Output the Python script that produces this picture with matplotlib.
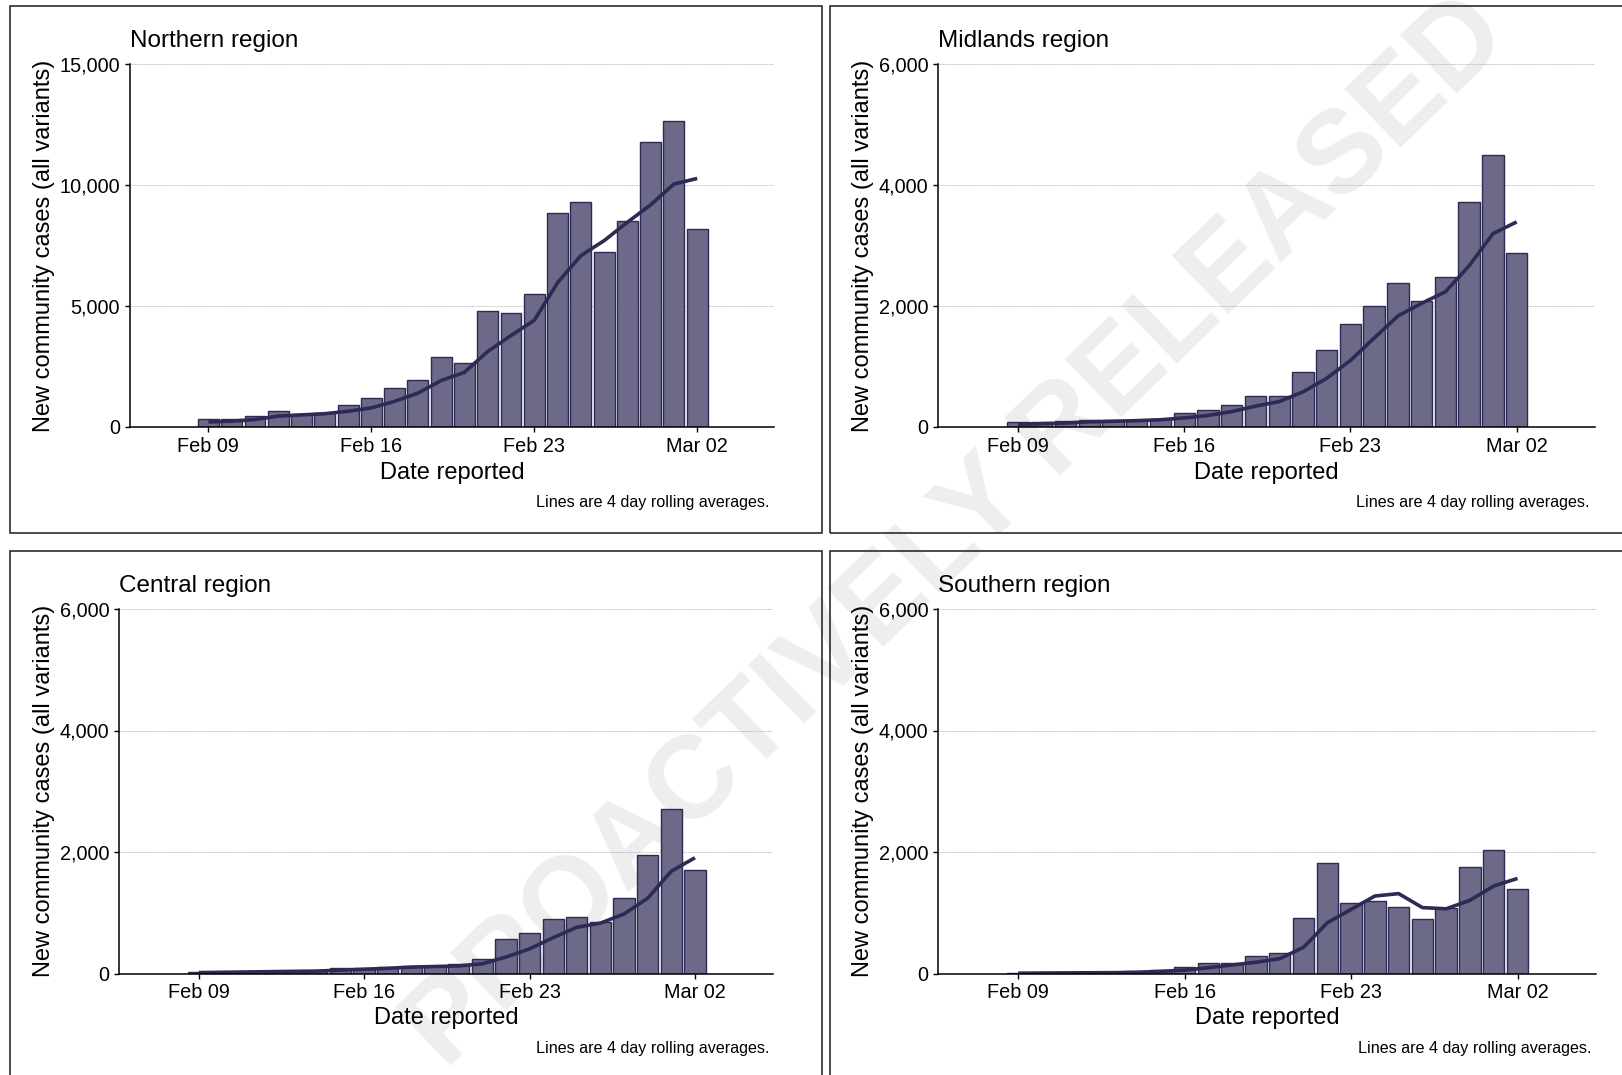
import pandas as pd
import matplotlib
matplotlib.use("Agg")
from matplotlib import pyplot as plt
from matplotlib.patches import Rectangle
from matplotlib.ticker import FuncFormatter

plt.rcParams['font.family'] = ['Liberation Sans', 'DejaVu Sans']

# daily reported community cases, Feb 09 - Mar 02
dates = pd.date_range("2022-02-09", "2022-03-02", freq="D")
tick_dates = pd.to_datetime(["2022-02-09", "2022-02-16", "2022-02-23", "2022-03-02"])
tick_labels = ["Feb 09", "Feb 16", "Feb 23", "Mar 02"]

northern_cases = [350, 340, 470, 670, 540, 570, 890, 1180, 1600, 1960, 2880,
                  2650, 4810, 4710, 5490, 8840, 9290, 7220, 8520, 11770, 12640, 8170]
northern_avg = [210, 240, 310, 450, 500, 550, 650, 790, 1060, 1400, 1920,
                2260, 3120, 3780, 4410, 5960, 7080, 7700, 8460, 9180, 10040, 10270]

midlands_cases = [85, 90, 95, 120, 120, 120, 140, 230, 285, 370, 510,
                  520, 910, 1270, 1710, 2000, 2380, 2090, 2480, 3715, 4500, 2875]
midlands_avg = [45, 55, 65, 85, 95, 105, 120, 150, 190, 255, 345,
                420, 580, 805, 1100, 1470, 1835, 2045, 2235, 2665, 3195, 3390]

central_cases = [20, 30, 30, 40, 45, 45, 90, 95, 110, 125, 125,
                 150, 245, 560, 665, 900, 925, 840, 1250, 1945, 2715, 1705]
central_avg = [15, 20, 25, 30, 35, 40, 55, 70, 85, 105, 115,
               125, 160, 270, 405, 590, 760, 830, 980, 1240, 1685, 1905]

southern_cases = [10, 10, 10, 15, 20, 35, 65, 100, 180, 180, 280,
                  330, 920, 1815, 1160, 1200, 1090, 890, 1085, 1755, 2025, 1390]
southern_avg = [5, 8, 10, 12, 14, 20, 35, 55, 95, 140, 185,
                245, 430, 835, 1055, 1275, 1315, 1085, 1065, 1205, 1440, 1565]

regions = ["Northern region", "Midlands region", "Central region", "Southern region"]
cases = [northern_cases, midlands_cases, central_cases, southern_cases]
averages = [northern_avg, midlands_avg, central_avg, southern_avg]
y_ticks = [[0, 5000, 10000, 15000], [0, 2000, 4000, 6000],
           [0, 2000, 4000, 6000], [0, 2000, 4000, 6000]]

W, H = 1622, 1075
LINE = '#2d2a55'
FILL = '#6c6a88'

# panel layout in pixels: axes (left, top, right, bottom), frame box, label spots
axes_px = [(130, 64, 774, 427), (938, 64, 1595, 427),
           (119, 609, 773, 973.5), (938, 609, 1596, 973.5)]
boxes_px = [(9.5, 6, 822, 533), (829.5, 6, 1642, 533),
            (9.5, 551, 822, 1078), (829.5, 551, 1642, 1078)]
ylab_x = [44, 863, 44, 863]
xlab_y = [473, 473, 1018, 1018]
caption_px = [(770, 503), (1589, 503), (770, 1048), (1591, 1048)]


def fx(x):
    return x / W


def fy(y):
    return 1 - y / H


fig = plt.figure(figsize=(W / 100, H / 100), dpi=100)
fig.patch.set_facecolor('white')

fig.text(fx(958), fy(533), "PROACTIVELY RELEASED", fontsize=84, fontweight='bold',
         color='#eeeeee', rotation=44, ha='center', va='center', zorder=-5)

for i in range(4):
    l, t, r, b = axes_px[i]
    ax = fig.add_axes([fx(l), fy(b), fx(r - l), (b - t) / H])
    ax.set_facecolor('none')

    ax.bar(dates, cases[i], width=0.9, color=FILL, edgecolor=LINE, linewidth=1.0, zorder=2)
    ax.plot(dates, averages[i], color=LINE, linewidth=2.6, solid_capstyle='butt', zorder=3)

    ax.set_xlim(dates[0] - pd.Timedelta(days=3.37), dates[-1] + pd.Timedelta(days=3.3))
    ax.set_ylim(0, y_ticks[i][-1])
    ax.set_xticks(tick_dates)
    ax.set_xticklabels(tick_labels)
    ax.set_yticks(y_ticks[i])
    ax.yaxis.set_major_formatter(FuncFormatter(lambda v, p: f"{int(v):,}"))

    ax.grid(axis='y', color='#a8a8a8', linestyle=(0, (1, 1)), linewidth=0.6, zorder=0)
    ax.set_axisbelow(True)
    for side in ['top', 'right']:
        ax.spines[side].set_visible(False)
    for side in ['left', 'bottom']:
        ax.spines[side].set_linewidth(1.1)
        ax.spines[side].set_zorder(4)
    ax.tick_params(length=3.6, width=1.0, labelsize=14.3, pad=3.5, colors='black')

    ax.set_title(regions[i], loc='left', fontsize=17.5, pad=12)
    ax.set_xlabel("Date reported", fontsize=17, va='center')
    ax.xaxis.set_label_coords(fx(l + (r - l) / 2), fy(xlab_y[i]), transform=fig.transFigure)
    ax.set_ylabel("New community cases (all variants)", fontsize=17, va='center')
    ax.yaxis.set_label_coords(fx(ylab_x[i]), fy((t + b) / 2), transform=fig.transFigure)

    cx, cy = caption_px[i]
    fig.text(fx(cx), fy(cy), "Lines are 4 day rolling averages.", fontsize=11.6,
             ha='right', va='center')

    bl, bt, br, bb = boxes_px[i]
    fig.add_artist(Rectangle((fx(bl), fy(bb)), fx(br - bl), (bb - bt) / H,
                             transform=fig.transFigure, fill=False,
                             edgecolor='#1a1a1a', linewidth=1.1))

fig.savefig("out.png", dpi=100)
